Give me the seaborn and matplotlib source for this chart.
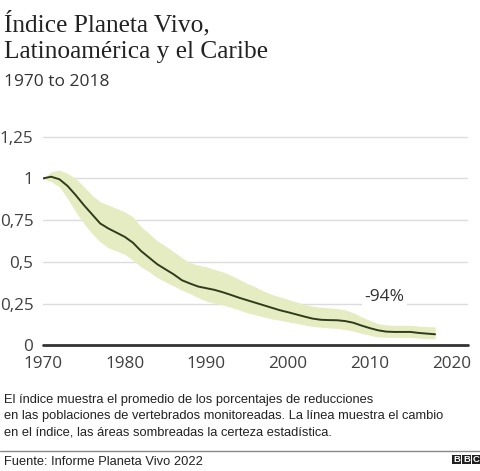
import numpy as np
import pandas as pd
import seaborn as sns
import matplotlib.pyplot as plt
from matplotlib.patches import Rectangle

years = list(range(1970, 2019))
index_vals = [1.00, 1.01, 0.995, 0.955, 0.90, 0.84, 0.785, 0.73, 0.70, 0.675,
              0.65, 0.615, 0.565, 0.525, 0.485, 0.455, 0.425, 0.39, 0.37, 0.352,
              0.342, 0.332, 0.318, 0.302, 0.285, 0.27, 0.255, 0.24, 0.225, 0.21,
              0.198, 0.185, 0.172, 0.16, 0.153, 0.151, 0.15, 0.145, 0.135, 0.118,
              0.103, 0.09, 0.082, 0.08, 0.08, 0.08, 0.074, 0.07, 0.066]
upper_vals = [1.00, 1.04, 1.05, 1.03, 1.00, 0.95, 0.90, 0.86, 0.84, 0.82,
              0.80, 0.77, 0.71, 0.67, 0.625, 0.595, 0.56, 0.525, 0.495, 0.48,
              0.47, 0.455, 0.44, 0.42, 0.395, 0.37, 0.35, 0.325, 0.305, 0.29,
              0.275, 0.26, 0.245, 0.235, 0.228, 0.224, 0.22, 0.212, 0.195, 0.17,
              0.15, 0.13, 0.122, 0.12, 0.12, 0.12, 0.115, 0.112, 0.11]
lower_vals = [1.00, 0.98, 0.95, 0.88, 0.80, 0.73, 0.67, 0.62, 0.585, 0.565,
              0.545, 0.51, 0.47, 0.44, 0.405, 0.38, 0.355, 0.33, 0.31, 0.285,
              0.265, 0.252, 0.242, 0.228, 0.212, 0.195, 0.183, 0.17, 0.158, 0.15,
              0.14, 0.132, 0.122, 0.113, 0.108, 0.104, 0.101, 0.095, 0.085, 0.072,
              0.06, 0.05, 0.048, 0.047, 0.047, 0.047, 0.043, 0.04, 0.038]

y_ticks = [0, 0.25, 0.5, 0.75, 1, 1.25]
y_labels = ["0", "0,25", "0,5", "0,75", "1", "1,25"]
x_ticks = [1970, 1980, 1990, 2000, 2010, 2020]

df = pd.DataFrame({"year": years, "index": index_vals,
                   "upper": upper_vals, "lower": lower_vals})

sns.set_theme(style="white")
plt.rcParams["font.family"] = ["Open Sans", "DejaVu Sans"]

fig = plt.figure(figsize=(4.8, 4.71), dpi=100)
ax = fig.add_axes([0.0896, 0.2669, 0.885, 0.450])

ax.fill_between(df["year"], df["lower"], df["upper"], color="#e6ecc1", lw=0, zorder=2)
sns.lineplot(data=df, x="year", y="index", ax=ax, color="#2f3b1c", lw=1.4, zorder=3)

ax.set_xlim(1970, 2022)
ax.set_ylim(0, 1.27)
ax.set_yticks(y_ticks)
ax.set_yticklabels(y_labels)
ax.set_xticks(x_ticks)
ax.set_xticklabels([str(x) for x in x_ticks])
ax.grid(axis="y", color="#dcdcdc", lw=1, zorder=0)
ax.grid(axis="x", visible=False)
for s in ax.spines.values():
    s.set_visible(False)
ax.axhline(0, color="#333333", lw=2, zorder=4, clip_on=False)
ax.tick_params(axis="both", length=0, labelsize=12.3, colors="#404040")
ax.tick_params(axis="y", pad=7)
ax.tick_params(axis="x", pad=8)
ax.set_xlabel("")
ax.set_ylabel("")

ax.text(2011.8, 0.29, "-94%", fontsize=12.5, color="#333333", ha="center", va="center",
        bbox=dict(facecolor="white", edgecolor="none", pad=1.5), zorder=5)

fig.text(0.008, 0.933, "Índice Planeta Vivo,", family="Liberation Serif",
         fontsize=18.3, color="#222222", va="baseline")
fig.text(0.008, 0.876, "Latinoamérica y el Caribe", family="Liberation Serif",
         fontsize=18.3, color="#222222", va="baseline")
fig.text(0.008, 0.817, "1970 to 2018", fontsize=12.5, color="#333333", va="baseline")

note = ("El índice muestra el promedio de los porcentajes de reducciones\n"
        "en las poblaciones de vertebrados monitoreadas. La línea muestra el cambio\n"
        "en el índice, las áreas sombreadas la certeza estadística.")
fig.text(0.008, 0.0764, note, family="Liberation Sans", fontsize=9.3,
         color="#222222", va="baseline", linespacing=1.45)
fig.add_artist(plt.Line2D([0, 1], [0.043, 0.043], color="#888888", lw=1))
fig.text(0.008, 0.013, "Fuente: Informe Planeta Vivo 2022", family="Liberation Sans",
         fontsize=9.3, color="#222222", va="baseline")

for i, letter in enumerate("BBC"):
    x0 = 0.942 + i * 0.0205
    fig.add_artist(Rectangle((x0, 0.014), 0.018, 0.021, transform=fig.transFigure,
                             color="#222222", lw=0))
    fig.text(x0 + 0.009, 0.0245, letter, color="white", fontsize=6.8,
             fontweight="bold", family="Liberation Sans", ha="center", va="center")

fig.savefig("out.png", dpi=100, facecolor="white")
